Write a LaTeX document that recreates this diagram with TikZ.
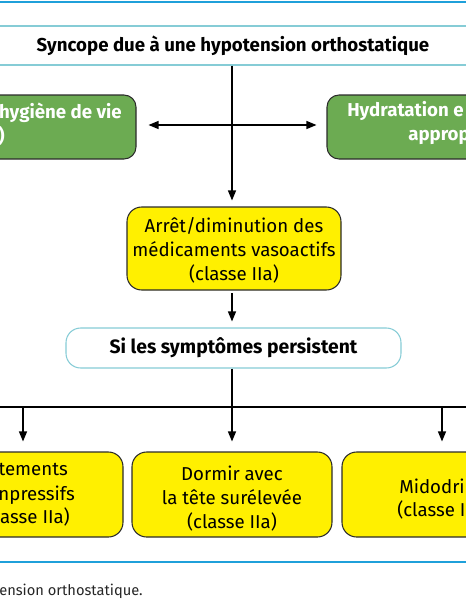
\documentclass[tikz,border=0pt]{standalone}
\usepackage{fontspec}
\setmainfont{Fira Sans}
\usepackage{tikz}
\usetikzlibrary{arrows.meta}

\definecolor{bandblue}{HTML}{1FA0DA}
\definecolor{framecyan}{HTML}{86CCD6}
\definecolor{boxgreen}{HTML}{6CAB52}
\definecolor{boxyellow}{HTML}{FFF000}
\definecolor{edgegray}{HTML}{2B2B2B}

\tikzset{
  titlebox/.style={draw=framecyan, line width=0.9pt, minimum width=357pt, minimum height=29.25pt,
    font=\fontsize{14}{16}\selectfont\bfseries},
  greenbox/.style={draw=edgegray, fill=boxgreen, line width=0.8pt, rounded corners=9pt,
    minimum width=172.5pt, minimum height=48pt},
  greentext/.style={text=white, font=\fontsize{14}{18}\selectfont\bfseries, inner sep=0pt},
  yellowbox/.style={draw=edgegray, fill=boxyellow, line width=0.8pt, rounded corners=11pt,
    minimum width=150pt, minimum height=63.75pt},
  yellowtext/.style={font=\fontsize{14}{18}\selectfont, inner sep=0pt, align=center},
  stepnote/.style={draw=framecyan, fill=white, line width=0.8pt, rounded corners=11pt,
    minimum width=251.25pt, minimum height=30pt, font=\fontsize{14.5}{16}\selectfont\bfseries},
  link/.style={line width=0.9pt, -{Triangle[length=7.5pt, width=6pt]}},
  band/.style={draw=bandblue, line width=2pt}
}

\begin{document}
\begin{tikzpicture}[x=0.75pt, y=-0.75pt]
\useasboundingbox (0,0) rectangle (466,600);
\clip (0,0) rectangle (466,600);

% Frame lines
\draw[band] (-5,2) coordinate (topl) -- (471,2) coordinate (topr);
\draw[band] (-5,562) coordinate (botl) -- (471,562) coordinate (botr);

% Title
\node[titlebox] (title) at (233,45.5) {Syncope due à une hypotension orthostatique};

% First line of measures
\node[greenbox] (hygiene) at (21,127) {};
\node[greenbox] (hydra) at (442,127) {};
\node[greentext, anchor=mid east] (hygienea) at (122,115) {hygiène de vie};
\node[greentext, anchor=mid east] (hygieneb) at (5,139) {)};
\node[greentext, anchor=mid west] (hydraa) at (347,113) {Hydratation e};
\node[greentext, anchor=mid west] (hydrab) at (408,137) {approp};
\coordinate (hub) at (232,125);

\node[yellowbox, minimum width=160.5pt, minimum height=62.25pt] (arret) at (234,248.5) {};
\node[yellowtext] (arrettext) at ([yshift=-1pt]arret.center)
  {Arrêt/diminution des\\médicaments vasoactifs\\(classe IIa)};

% Persisting symptoms
\node[stepnote] (persist) at (233.5,348) {Si les symptômes persistent};
\coordinate (split) at (232,407);
\coordinate (splitl) at (-5,407);
\coordinate (splitr) at (471,407);

% Second line of measures
\node[yellowbox] (bas) at (23,494.5) {};
\node[yellowbox] (dormir) at (232,494.5) {};
\node[yellowbox] (mido) at (442,494.5) {};
\node[yellowtext] (dormirtext) at ([yshift=-3pt]dormir.center)
  {Dormir avec\\la tête surélevée\\(classe IIa)};
\node[yellowtext, anchor=mid east] (basa) at (68,472) {tements};
\node[yellowtext, anchor=mid east] (basb) at (75,497) {npressifs};
\node[yellowtext, anchor=mid east] (basc) at (70,520) {asse IIa)};
\node[yellowtext, anchor=mid west] (midoa) at (399,490) {Midodri};
\node[yellowtext, anchor=mid west] (midob) at (397,513) {(classe I};

% Connectors
\draw[link, shorten >=4.5pt] (title.south -| hub) -- (arret.north -| hub);
\draw[link, {Triangle[length=7.5pt, width=6pt]}-{Triangle[length=7.5pt, width=6pt]},
  shorten <=9pt, shorten >=7.5pt] (hygiene.east |- hub) -- (hydra.west |- hub);
\draw[link, shorten <=2pt, shorten >=4.5pt] (arret.south -| hub) -- (persist.north -| hub);
\draw[line width=0.9pt] (splitl) -- (splitr);
\draw[link, shorten >=7.5pt] (persist.south -| dormir) -- (dormir.north);
\draw[link, shorten >=7.5pt] (split -| bas) -- (bas.north);
\draw[link, shorten >=7.5pt] (split -| mido) -- (mido.north);

% Caption
\node[anchor=mid west, inner sep=0pt, font=\fontsize{11}{12}\selectfont, text=black!85] (caption)
  at (-1,592) {ension orthostatique.};
\end{tikzpicture}
\end{document}
